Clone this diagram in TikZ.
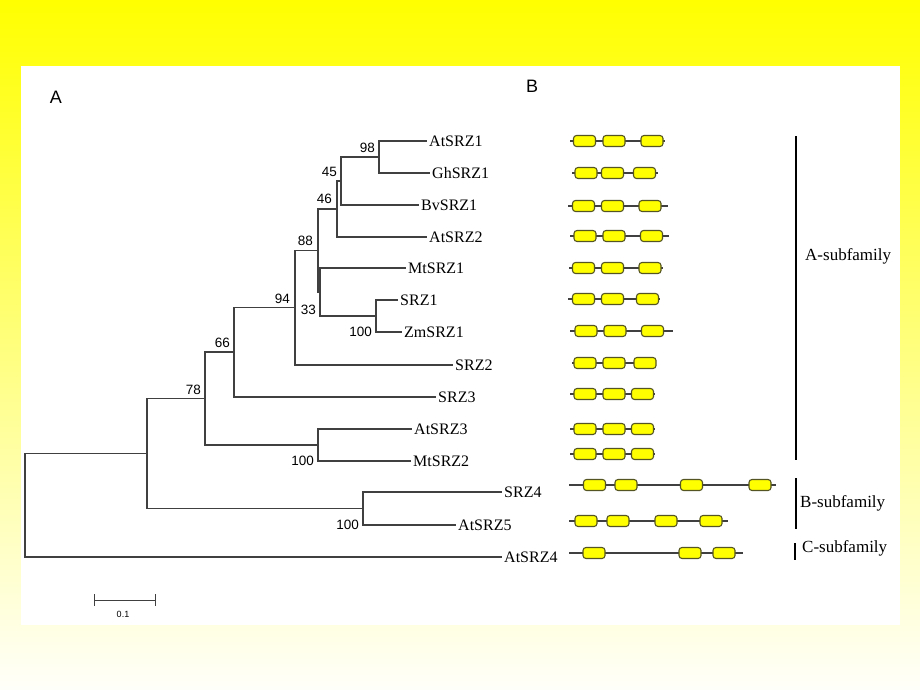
\documentclass[tikz,border=0pt]{standalone}
\usepackage{fontspec}
\setmainfont{Liberation Serif}
\newfontfamily\numfont{Liberation Sans}
\usepackage{tikz}
\definecolor{slide-yellow}{RGB}{255,255,0}
\definecolor{slide-pale}{RGB}{255,255,250}
\definecolor{tree-gray}{RGB}{64,64,64}
\definecolor{dom-yellow}{RGB}{255,255,0}
\definecolor{dom-edge}{RGB}{85,85,35}

\begin{document}
\begin{tikzpicture}[x=1pt, y=-1pt,
  branch/.style={draw=tree-gray, line width=1.1pt},
  leaf/.style={anchor=west, inner sep=2pt, font=\fontsize{16}{16}\selectfont},
  boot/.style={inner sep=1pt, font=\numfont\fontsize{13.5}{13.5}\selectfont},
  gene/.style={draw=tree-gray, line width=1.2pt},
  dom/.style={draw=dom-edge, fill=dom-yellow, line width=1.1pt, rounded corners=3pt,
              minimum width=22pt, minimum height=11pt, inner sep=0pt},
  family/.style={line width=2.6pt},
  famlabel/.style={anchor=west, inner sep=0pt, font=\fontsize{17}{17}\selectfont}]

% Slide background and white panel
\useasboundingbox (0,0) rectangle (920,690);
\shade[top color=slide-yellow, middle color=slide-yellow!25!white, bottom color=slide-pale]
    (0,0) rectangle (920,690);
\fill[white] (21,66) rectangle (900,625);

\node[font=\numfont\fontsize{18}{18}\selectfont] (panelA) at (56,97) {A};
\node[font=\numfont\fontsize{18}{18}\selectfont] (panelB) at (532,86) {B};

% Leaves
\node[leaf] (l1)  at (427,141) {AtSRZ1};
\node[leaf] (l2)  at (430,173) {GhSRZ1};
\node[leaf] (l3)  at (419,205) {BvSRZ1};
\node[leaf] (l4)  at (427,237) {AtSRZ2};
\node[leaf] (l5)  at (406,268) {MtSRZ1};
\node[leaf] (l6)  at (398,300) {SRZ1};
\node[leaf] (l7)  at (402,332) {ZmSRZ1};
\node[leaf] (l8)  at (453,365) {SRZ2};
\node[leaf] (l9)  at (436,397) {SRZ3};
\node[leaf] (l10) at (412,429) {AtSRZ3};
\node[leaf] (l11) at (411,461) {MtSRZ2};
\node[leaf] (l12) at (502,492) {SRZ4};
\node[leaf] (l13) at (456,525) {AtSRZ5};
\node[leaf] (l14) at (502,557) {AtSRZ4};

% Inner nodes
\coordinate (n98)   at (379,157);
\coordinate (n45)   at (341,181);
\coordinate (n46)   at (337,209);
\coordinate (n100a) at (376,316);
\coordinate (n33)   at (320,292);
\coordinate (n88)   at (318,250.5);
\coordinate (n94)   at (295,307.5);
\coordinate (n66)   at (234,352);
\coordinate (n100b) at (318,445);
\coordinate (n78)   at (205,398.5);
\coordinate (n100c) at (363,508.5);
\coordinate (nU)    at (147,453.5);
\coordinate (nRoot) at (25,505);

% Branches
\draw[branch] (n98) |- (l1.west);
\draw[branch] (n98) |- (l2.west);
\draw[branch] (n45) |- (n98);
\draw[branch] (n45) |- (l3.west);
\draw[branch] (n46) |- (n45);
\draw[branch] (n46) |- (l4.west);
\draw[branch] (n100a) |- (l6.west);
\draw[branch] (n100a) |- (l7.west);
\draw[branch] (n33) |- (l5.west);
\draw[branch] (n33) |- (n100a);
\draw[branch] (n88) |- (n46);
\draw[branch] (n88) |- (n33);
\draw[branch] (n94) |- (n88);
\draw[branch] (n94) |- (l8.west);
\draw[branch] (n66) |- (n94);
\draw[branch] (n66) |- (l9.west);
\draw[branch] (n100b) |- (l10.west);
\draw[branch] (n100b) |- (l11.west);
\draw[branch] (n78) |- (n66);
\draw[branch] (n78) |- (n100b);
\draw[branch] (n100c) |- (l12.west);
\draw[branch] (n100c) |- (l13.west);
\draw[branch] (nU) |- (n78);
\draw[branch] (nU) |- (n100c);
\draw[branch] (nRoot) |- (nU);
\draw[branch] (nRoot) |- (l14.west);

% Bootstrap values
\node[boot, anchor=south east, xshift=-3pt, yshift=3pt] (b98) at (n98) {98};
\node[boot, anchor=south east, xshift=-3pt, yshift=3pt] (b45) at (n45) {45};
\node[boot, anchor=south east, xshift=-4pt, yshift=4pt] (b46) at (n46) {46};
\node[boot, anchor=south east, xshift=-4pt, yshift=4pt] (b88) at (n88) {88};
\node[boot, anchor=south east, xshift=-4pt, yshift=3pt] (b94) at (n94) {94};
\node[boot, anchor=south east, xshift=-3pt, yshift=3pt] (b66) at (n66) {66};
\node[boot, anchor=south east, xshift=-3pt, yshift=3pt] (b78) at (n78) {78};
\node[boot, anchor=north east, xshift=-3pt, yshift=-12pt] (b33) at (n33) {33};
\node[boot, anchor=east, xshift=-3pt] (b100a) at (n100a |- l7.west) {100};
\node[boot, anchor=east, xshift=-3pt] (b100b) at (n100b |- l11.west) {100};
\node[boot, anchor=east, xshift=-3pt] (b100c) at (n100c |- l13.west) {100};

% Domain structure, one row per leaf
% Row 1
\draw[gene] (570,141) -- (665,141);
\node[dom] (d1a) at (584.5,141) {}; \node[dom] (d1b) at (614,141) {}; \node[dom] (d1c) at (652,141) {};
% Row 2
\draw[gene] (572,173) -- (658,173);
\node[dom] (d2a) at (586,173) {}; \node[dom] (d2b) at (612.5,173) {}; \node[dom] (d2c) at (644.5,173) {};
% Row 3
\draw[gene] (568,206) -- (668,206);
\node[dom] (d3a) at (583.5,206) {}; \node[dom] (d3b) at (612.5,206) {}; \node[dom] (d3c) at (650,206) {};
% Row 4
\draw[gene] (570,236) -- (669,236);
\node[dom] (d4a) at (585,236) {}; \node[dom] (d4b) at (614,236) {}; \node[dom] (d4c) at (651.5,236) {};
% Row 5
\draw[gene] (569,268) -- (663,268);
\node[dom] (d5a) at (583.5,268) {}; \node[dom] (d5b) at (612.5,268) {}; \node[dom] (d5c) at (650,268) {};
% Row 6
\draw[gene] (568,299) -- (660,299);
\node[dom] (d6a) at (583.5,299) {}; \node[dom] (d6b) at (612.5,299) {}; \node[dom] (d6c) at (647.5,299) {};
% Row 7
\draw[gene] (570,331) -- (673,331);
\node[dom] (d7a) at (586,331) {}; \node[dom] (d7b) at (615,331) {}; \node[dom] (d7c) at (652.5,331) {};
% Row 8
\draw[gene] (572,363) -- (656,363);
\node[dom] (d8a) at (585,363) {}; \node[dom] (d8b) at (614,363) {}; \node[dom] (d8c) at (645,363) {};
% Row 9
\draw[gene] (570,394) -- (655,394);
\node[dom] (d9a) at (585,394) {}; \node[dom] (d9b) at (614,394) {}; \node[dom] (d9c) at (642.5,394) {};
% Row 10
\draw[gene] (570,429) -- (655,429);
\node[dom] (d10a) at (585,429) {}; \node[dom] (d10b) at (614,429) {}; \node[dom] (d10c) at (642.5,429) {};
% Row 11
\draw[gene] (570,454) -- (655,454);
\node[dom] (d11a) at (585,454) {}; \node[dom] (d11b) at (614,454) {}; \node[dom] (d11c) at (642.5,454) {};
% Row 12
\draw[gene] (569,485) -- (776,485);
\node[dom] (d12a) at (594.5,485) {}; \node[dom] (d12b) at (626,485) {};
\node[dom] (d12c) at (691.5,485) {}; \node[dom] (d12d) at (760,485) {};
% Row 13
\draw[gene] (569,521) -- (728,521);
\node[dom] (d13a) at (586,521) {}; \node[dom] (d13b) at (618,521) {};
\node[dom] (d13c) at (666,521) {}; \node[dom] (d13d) at (711,521) {};
% Row 14
\draw[gene] (569,553) -- (743,553);
\node[dom] (d14a) at (594,553) {}; \node[dom] (d14b) at (690,553) {}; \node[dom] (d14c) at (724,553) {};

% Subfamily brackets
\draw[family] (796,136) -- (796,460);
\draw[family] (796,478) -- (796,529);
\draw[family] (795,543) -- (795,560);
\node[famlabel] (famA) at (805,256) {A-subfamily};
\node[famlabel] (famB) at (800,503) {B-subfamily};
\node[famlabel] (famC) at (802,548) {C-subfamily};

% Scale bar
\draw[branch, line width=1pt] (94,594) -- (94,606) (94,600) -- (155,600) (155,594) -- (155,606);
\node[font=\numfont\fontsize{9}{9}\selectfont] (scale) at (123,614) {0.1};

\end{tikzpicture}
\end{document}
